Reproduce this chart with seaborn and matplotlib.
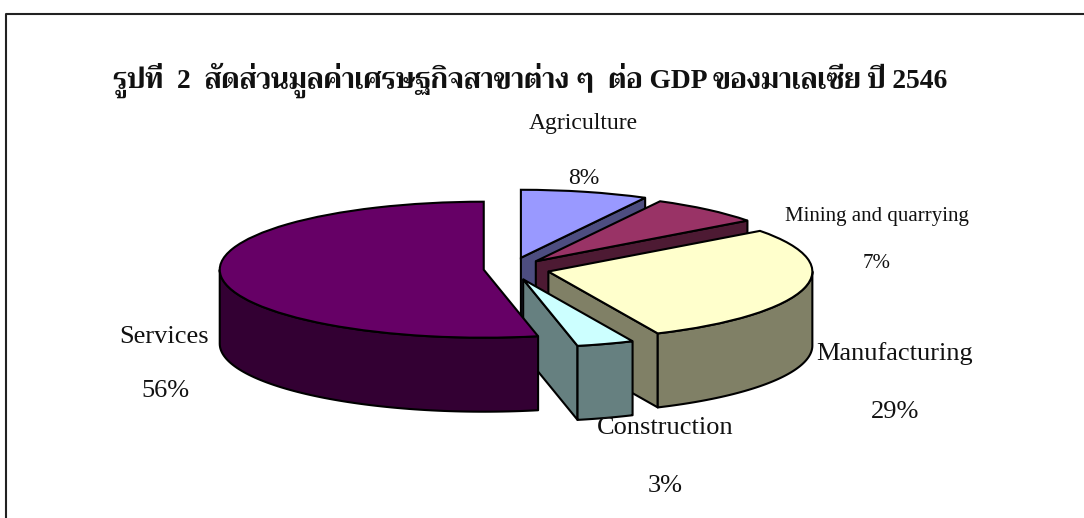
import matplotlib
matplotlib.use('Agg')
import matplotlib.pyplot as plt
import numpy as np
import seaborn as sns

titulo = 'รูปที่  2  สัดส่วนมูลค่าเศรษฐกิจสาขาต่าง ๆ  ต่อ GDP ของมาเลเซีย ปี 2546'
sectores = ['Agriculture', 'Mining and quarrying', 'Manufacturing', 'Construction', 'Services']
# el rotulo del original suma 103%, por eso se guardan aparte
rotulos = ['8%', '7%', '29%', '3%', '56%']
tamanos = [7.8, 7.0, 28.4, 3.5, 53.3]

color_top = ['#9999FF', '#993366', '#FFFFCC', '#CCFFFF', '#660066']
color_lado = ['#4D4D80', '#4D1A33', '#808066', '#668080', '#330033']
separacion = [0.17, 0.15, 0.15, 0.16, 0.10]

ANCHO, ALTO = 1084, 518
CX, CY, RX, RY = 510, 269, 264, 68
PROF = 74 / RY
LW = 1.5

sns.set_theme(style='white')
plt.rcParams['font.family'] = ['Liberation Serif', 'Norasi', 'Trirong', 'Loma', 'Noto Sans Thai', 'DejaVu Sans']
plt.rcParams['text.color'] = '#111111'

fig = plt.figure(figsize=(ANCHO / 100, ALTO / 100), dpi=100)
ax = fig.add_axes([0, 0, 1, 1])
cuñas, _ = ax.pie(tamanos, colors=sns.color_palette(color_top), explode=separacion, startangle=90,
                  counterclock=False, wedgeprops={'edgecolor': 'black', 'linewidth': LW})
ax.set_aspect('auto')
ax.set_xlim(-CX / RX, (ANCHO - CX) / RX)
ax.set_ylim((CY - ALTO) / RY, CY / RY)


def caras_laterales(cuña, color, z):
    cx, cy = cuña.center
    t1, t2 = cuña.theta1, cuña.theta2
    # cara radial visible solo si mira hacia el frente
    for t, visible in ((t1, np.cos(np.radians(t1)) > 1e-6), (t2, np.cos(np.radians(t2)) < -1e-6)):
        if visible:
            xe = cx + cuña.r * np.cos(np.radians(t))
            ye = cy + cuña.r * np.sin(np.radians(t))
            ax.fill([cx, xe, xe, cx], [cy, ye, ye - PROF, cy - PROF], facecolor=color,
                    edgecolor='black', linewidth=LW, zorder=z, joinstyle='round')
    # pared exterior: parte del arco en la mitad inferior
    for desde in (-360, 0, 360):
        a = max(t1, 180 + desde)
        b = min(t2, 360 + desde)
        if b > a:
            ang = np.radians(np.linspace(a, b, 80))
            xs = cx + cuña.r * np.cos(ang)
            ys = cy + cuña.r * np.sin(ang)
            ax.fill(np.r_[xs, xs[::-1]], np.r_[ys, ys[::-1] - PROF], facecolor=color,
                    edgecolor='black', linewidth=LW, zorder=z, joinstyle='round')


for i in range(len(cuñas)):
    caras_laterales(cuñas[i], color_lado[i], 2 + i * 2)
    cuñas[i].set_zorder(3 + i * 2)


def px(x, y):
    return x / ANCHO, 1 - y / ALTO


# marco (recortado abajo y a la derecha en el original)
fig.add_artist(plt.Line2D([5.5 / ANCHO, 5.5 / ANCHO, 1], [0, 1 - 14 / ALTO, 1 - 14 / ALTO],
                          color='#222222', linewidth=1.5))

fig.text(*px(530, 80), titulo, ha='center', va='center', fontsize=19.8, fontweight='bold')

pos_nombre = [(583, 124), (877, 217), (895, 354), (665, 428), (164, 337)]
pos_rotulo = [(584, 179), (877, 264), (895, 412), (665, 486), (165, 391)]
tam_letra = [17, 15, 19, 19, 19]
for i in range(len(sectores)):
    fig.text(*px(*pos_nombre[i]), sectores[i], ha='center', va='center', fontsize=tam_letra[i], zorder=20)
    fig.text(*px(*pos_rotulo[i]), rotulos[i], ha='center', va='center', fontsize=tam_letra[i])

fig.savefig('out.png', dpi=100)
plt.close()
